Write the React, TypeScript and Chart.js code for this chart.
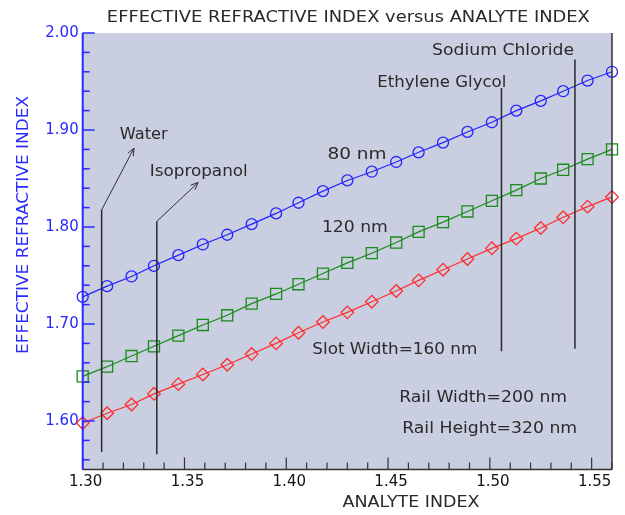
import React, { useEffect, useRef } from "react";
import { Chart, registerables } from "chart.js";

Chart.register(...registerables);

// ---------- data ----------
const analyteIndex = [
  1.300, 1.312, 1.324, 1.335, 1.347, 1.359, 1.371, 1.383, 1.395, 1.406, 1.418, 1.430,
  1.442, 1.454, 1.465, 1.477, 1.489, 1.501, 1.513, 1.525, 1.536, 1.548, 1.560,
];
const slot80 = [
  1.728, 1.739, 1.749, 1.760, 1.771, 1.782, 1.792, 1.803, 1.814, 1.825, 1.837, 1.848,
  1.857, 1.867, 1.877, 1.887, 1.898, 1.908, 1.920, 1.930, 1.940, 1.951, 1.960,
];
const slot120 = [
  1.646, 1.656, 1.667, 1.677, 1.688, 1.699, 1.709, 1.721, 1.731, 1.741, 1.752, 1.763,
  1.773, 1.784, 1.795, 1.805, 1.816, 1.827, 1.838, 1.850, 1.859, 1.870, 1.880,
];
const slot160 = [
  1.598, 1.608, 1.617, 1.628, 1.638, 1.648, 1.658, 1.669, 1.680, 1.691, 1.702, 1.712,
  1.723, 1.734, 1.745, 1.756, 1.767, 1.778, 1.788, 1.799, 1.810, 1.821, 1.831,
];
const xTickValues = [1.30, 1.35, 1.40, 1.45, 1.50, 1.55];
const yTickValues = [1.60, 1.70, 1.80, 1.90, 2.00];
const seriesLabels = ["80 nm", "120 nm", "Slot Width=160 nm"];
const analyteNames = ["Water", "Isopropanol", "Ethylene Glycol", "Sodium Chloride"];
const analyteLineX = [1.3093, 1.3364, 1.5057, 1.5418];
const noteTexts = ["Rail Width=200 nm", "Rail Height=320 nm"];
const titleText = "EFFECTIVE REFRACTIVE INDEX versus ANALYTE INDEX";
const xTitleText = "ANALYTE INDEX";
const yTitleText = "EFFECTIVE REFRACTIVE INDEX";

// ---------- styling ----------
const FONT = '"DejaVu Sans", sans-serif';
const BLUE = "rgb(35,35,255)";
const GREEN = "rgb(25,140,25)";
const RED = "rgb(255,45,45)";
const AXIS_BLUE = "rgb(40,40,255)";
const PLOT_BG = "rgb(201,206,224)";
const INK = "#2a2a2a";

function drawFitted(
  ctx: CanvasRenderingContext2D,
  text: string,
  cx: number,
  cy: number,
  width: number,
  size: number,
  color: string,
  rot = 0
) {
  ctx.save();
  ctx.font = `${size}px ${FONT}`;
  ctx.fillStyle = color;
  ctx.textBaseline = "middle";
  ctx.textAlign = "center";
  const m = ctx.measureText(text).width || 1;
  ctx.translate(cx, cy);
  if (rot) ctx.rotate(rot);
  ctx.scale(width / m, 1);
  ctx.fillText(text, 0, 0);
  ctx.restore();
}

function arrow(ctx: CanvasRenderingContext2D, x0: number, y0: number, x1: number, y1: number) {
  ctx.beginPath();
  ctx.moveTo(x0, y0);
  ctx.lineTo(x1, y1);
  const a = Math.atan2(y1 - y0, x1 - x0);
  const L = 8;
  const s = 0.4;
  ctx.moveTo(x1 - L * Math.cos(a - s), y1 - L * Math.sin(a - s));
  ctx.lineTo(x1, y1);
  ctx.lineTo(x1 - L * Math.cos(a + s), y1 - L * Math.sin(a + s));
  ctx.stroke();
}

const decorPlugin = {
  id: "decor",
  beforeDatasetsDraw(chart: any) {
    const { ctx, chartArea: a } = chart;
    ctx.save();
    ctx.fillStyle = PLOT_BG;
    ctx.fillRect(a.left, a.top, a.right - a.left, a.bottom - a.top);
    ctx.restore();
  },
  afterDatasetsDraw(chart: any) {
    const { ctx, chartArea: a } = chart;
    const xs = chart.scales.x;
    const ys = chart.scales.y;
    const px = (v: number) => xs.getPixelForValue(v);
    const py = (v: number) => ys.getPixelForValue(v);

    ctx.save();
    // analyte marker lines
    const lineSpans = [
      [1.5681, 1.8176],
      [1.5657, 1.8058],
      [1.672, 1.9433],
      [1.6745, 1.9728],
    ];
    ctx.strokeStyle = INK;
    ctx.lineWidth = 1.5;
    analyteLineX.forEach((xv, i) => {
      ctx.beginPath();
      ctx.moveTo(px(xv), py(lineSpans[i][0]));
      ctx.lineTo(px(xv), py(lineSpans[i][1]));
      ctx.stroke();
    });
    // arrows for Water and Isopropanol
    ctx.lineWidth = 1;
    ctx.strokeStyle = "#303030";
    arrow(ctx, px(analyteLineX[0]), py(1.8176), px(1.3252), py(1.8813));
    arrow(ctx, px(analyteLineX[1]), py(1.8058), px(1.3567), py(1.8459));

    // texts
    const textSpecs: [string, number, number, number][] = [
      [analyteNames[0], 1.3300, 1.895, 48],
      [analyteNames[1], 1.3570, 1.8572, 98],
      [analyteNames[2], 1.4764, 1.9485, 129],
      [analyteNames[3], 1.5065, 1.9817, 142],
      [seriesLabels[0], 1.4347, 1.8744, 59],
      [seriesLabels[1], 1.4337, 1.799, 66],
      [seriesLabels[2], 1.4533, 1.673, 165],
      [noteTexts[0], 1.4967, 1.6234, 168],
      [noteTexts[1], 1.4999, 1.5915, 175],
    ];
    textSpecs.forEach(([t, xv, yv, w]) => drawFitted(ctx, t, px(xv), py(yv), w, 16, INK));

    // axes lines
    ctx.strokeStyle = "#333";
    ctx.lineWidth = 1.5;
    ctx.beginPath();
    ctx.moveTo(a.left, a.bottom);
    ctx.lineTo(a.right, a.bottom);
    ctx.moveTo(a.right, a.top);
    ctx.lineTo(a.right, a.bottom);
    ctx.stroke();

    // x ticks (inward)
    ctx.lineWidth = 1.2;
    for (let k = 0; k <= 26; k++) {
      const v = 1.30 + k * 0.01;
      const major = k % 5 === 0;
      const x = px(v);
      ctx.beginPath();
      ctx.moveTo(x, a.bottom);
      ctx.lineTo(x, a.bottom - (major ? 12 : 7));
      ctx.stroke();
    }

    // y axis (blue) and ticks
    ctx.strokeStyle = AXIS_BLUE;
    ctx.lineWidth = 2;
    ctx.beginPath();
    ctx.moveTo(a.left, a.top);
    ctx.lineTo(a.left, a.bottom);
    ctx.stroke();
    ctx.lineWidth = 1.5;
    for (let k = 0; k <= 22; k++) {
      const v = 1.56 + k * 0.02;
      const major = k % 5 === 2;
      const y = py(v);
      ctx.beginPath();
      ctx.moveTo(a.left, y);
      ctx.lineTo(a.left + (major ? 12 : 7), y);
      ctx.stroke();
    }
    ctx.restore();
  },
  afterDraw(chart: any) {
    const { ctx, chartArea: a } = chart;
    const cx = (a.left + a.right) / 2;
    drawFitted(ctx, titleText, cx + 1, 18, 483, 15, INK);
    drawFitted(ctx, xTitleText, 411, 503, 137, 15, INK);
    drawFitted(ctx, yTitleText, 24, 225, 258, 15, AXIS_BLUE, -Math.PI / 2);
  },
};

export default function App() {
  const ref = useRef<HTMLCanvasElement | null>(null);

  useEffect(() => {
    if (!ref.current) return;
    const mk = (vals: number[]) => vals.map((y, i) => ({ x: analyteIndex[i], y }));
    const common = {
      pointBackgroundColor: "rgba(0,0,0,0)",
      pointBorderWidth: 1.3,
      borderWidth: 1.2,
      tension: 0,
      clip: false,
    };
    const chart = new Chart(ref.current, {
      type: "line",
      data: {
        datasets: [
          {
            ...common,
            label: seriesLabels[0],
            data: mk(slot80),
            borderColor: BLUE,
            pointBorderColor: BLUE,
            pointStyle: "circle",
            pointRadius: 5.5,
          },
          {
            ...common,
            label: seriesLabels[1],
            data: mk(slot120),
            borderColor: GREEN,
            pointBorderColor: GREEN,
            pointStyle: "rect",
            pointRadius: 7.8,
          },
          {
            ...common,
            label: seriesLabels[2],
            data: mk(slot160),
            borderColor: RED,
            pointBorderColor: RED,
            pointStyle: "rectRot",
            pointRadius: 6.3,
          },
        ],
      },
      options: {
        responsive: false,
        animation: false,
        devicePixelRatio: 1,
        layout: { padding: { left: 0, top: 33, right: 13, bottom: 0 } },
        plugins: {
          legend: { display: false },
          tooltip: { enabled: false },
          title: { display: false },
        },
        scales: {
          x: {
            type: "linear",
            min: 1.30,
            max: 1.56,
            grid: { display: false, drawTicks: false },
            border: { display: false },
            afterBuildTicks: (s: any) => {
              s.ticks = xTickValues.map((v) => ({ value: v }));
            },
            afterFit: (s: any) => {
              s.height = 45.5;
            },
            ticks: {
              color: "#111",
              font: { family: FONT, size: 15 },
              padding: 4,
              labelOffset: 3,
              maxRotation: 0,
              autoSkip: false,
              callback: (v: any) => Number(v).toFixed(2),
            },
          },
          y: {
            type: "linear",
            min: 1.55,
            max: 2.0,
            grid: { display: false, drawTicks: false },
            border: { display: false },
            afterBuildTicks: (s: any) => {
              s.ticks = yTickValues.map((v) => ({ value: v }));
            },
            afterFit: (s: any) => {
              s.width = 82.7;
            },
            ticks: {
              color: AXIS_BLUE,
              font: { family: FONT, size: 15 },
              padding: 4,
              autoSkip: false,
              callback: (v: any) => Number(v).toFixed(2),
            },
          },
        },
      },
      plugins: [decorPlugin],
    } as any);
    return () => chart.destroy();
  }, []);

  return (
    <div style={{ position: "absolute", left: 0, top: 0, width: 625, height: 515, background: "#fff" }}>
      <canvas ref={ref} width={625} height={515} />
    </div>
  );
}
